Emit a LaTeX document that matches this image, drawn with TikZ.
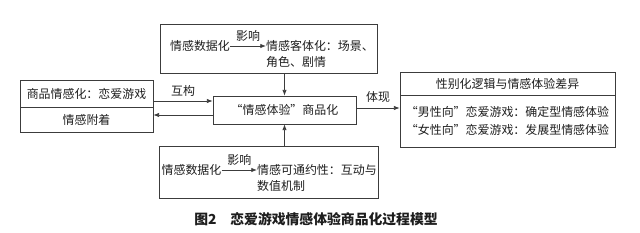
\documentclass[tikz,border=0pt]{standalone}
\usepackage{fontspec}
\setmainfont{Noto Sans CJK SC}
\usetikzlibrary{arrows.meta,positioning}
\definecolor{gmline}{HTML}{3C3C3C}
\definecolor{gmink}{HTML}{1E1E1E}
\tikzset{
  bx/.style={draw=gmline, line width=0.65pt, inner sep=0pt, align=center, text=gmink, font=\fontsize{10.2}{13.6}\selectfont},
  tx/.style={inner sep=0pt, text=gmink, font=\fontsize{10.2}{13.6}\selectfont},
  lbl/.style={inner sep=0pt, text=gmink, font=\fontsize{10.2}{12}\selectfont},
  arr/.style={-{Latex[length=1.7mm,width=1.3mm]}, line width=0.65pt, color=gmline},
}

\begin{document}
\begin{tikzpicture}[x=0.3mm, y=-0.3mm]
    \useasboundingbox (0,0) rectangle (640,233);
    % upper box
    \node[bx, minimum width=65.1mm, minimum height=14.7mm] (obj) at (268.5,48.5) {};
    \node[tx] (od) at (200,46) {情感数据化};
    \node[tx, anchor=west, align=left] (oo) at (266,54) {情感客体化：场景、\\角色、剧情};
    \draw[arr] (od.east) -- node[lbl, above=1.2mm] {影响} (od.east -| oo.west);
    % lower box
    \node[bx, minimum width=65.7mm, minimum height=15.6mm] (com) at (268.5,172) {};
    \node[tx] (cd) at (191.5,170) {情感数据化};
    \node[tx, anchor=west, align=left] (cc) at (257,178) {情感可通约性：互动与\\数值机制};
    \draw[arr] (cd.east) -- node[lbl, above=1.2mm] {影响} (cd.east -| cc.west);
    % left, middle, right
    \node[bx, minimum width=39.9mm, minimum height=8.1mm] (gam) at (86.5,93.5) {商品情感化：恋爱游戏};
    \node[bx, minimum width=39.9mm, minimum height=7.5mm] (att) at (86.5,119.5) {情感附着};
    \node[bx, minimum width=42.9mm, minimum height=8.4mm] (mid) at (284.5,110) {“情感体验”商品化};
    \node[bx, minimum width=64.5mm, minimum height=6.9mm] (gen) at (507.5,83.5) {性别化逻辑与情感体验差异};
    \node[bx, minimum width=64.5mm, minimum height=15.6mm, align=left, font=\fontsize{10.2}{15.3}\selectfont] (dif) at (507.5,121)
      {“男性向”恋爱游戏：确定型情感体验\\“女性向”恋爱游戏：发展型情感体验};
    \draw[arr] (obj.south -| mid.north) -- (mid.north);
    \draw[arr] (com.north -| mid.south) -- (mid.south);
    \coordinate (hg) at ([yshift=2.7mm]mid.west);
    \coordinate (fg) at ([yshift=-1.5mm]mid.west);
    \coordinate (tx) at ([yshift=0.6mm]mid.east);
    \draw[arr] (hg -| gam.east) -- node[lbl, above=1.2mm] {互构} (hg);
    \draw[arr] (fg) -- (fg -| att.east);
    \draw[arr] (tx) -- node[lbl, above=1.6mm] {体现} (tx -| dif.west);
    \node[tx, font=\fontsize{11.8}{13}\selectfont\bfseries] (cap) at (316,219) {图2\quad 恋爱游戏情感体验商品化过程模型};
\end{tikzpicture}
\end{document}
